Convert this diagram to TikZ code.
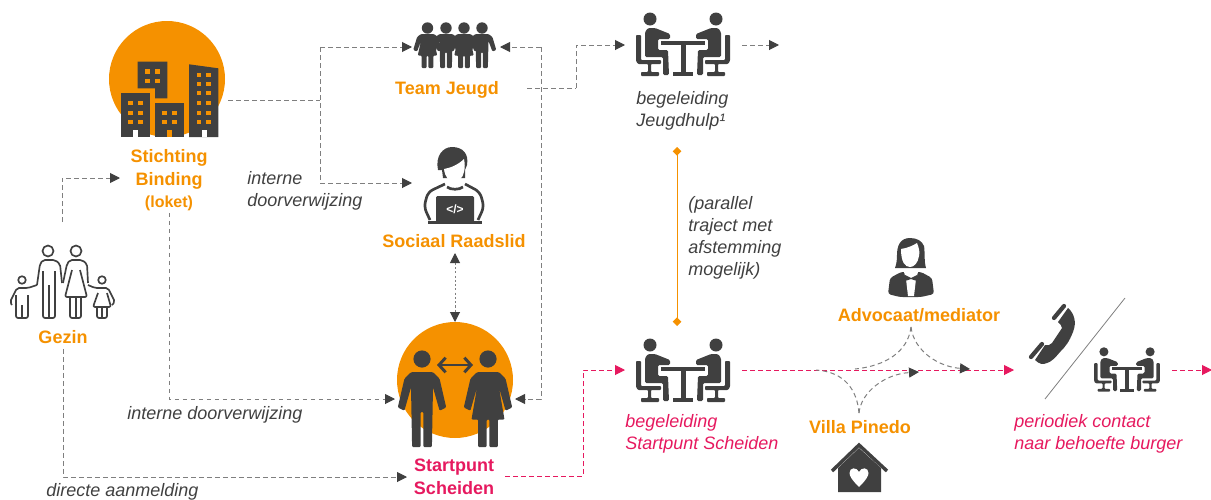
\documentclass[tikz,border=0pt]{standalone}
\usepackage{fontspec}
\setmainfont{Liberation Sans}
\usetikzlibrary{arrows.meta}
\definecolor{icondark}{HTML}{404040}
\definecolor{linegrey}{HTML}{7F7F7F}
\definecolor{bindorange}{HTML}{F59100}
\definecolor{startpink}{HTML}{E6195F}
\tikzset{
	actor/.style={font=\fontsize{13.5}{17}\selectfont\bfseries, text=bindorange, align=center, inner sep=0pt},
	remark/.style={font=\fontsize{13.5}{16.5}\selectfont\itshape, text=icondark, align=left, anchor=west, inner sep=0pt},
	flow/.style={draw=linegrey, line width=0.75pt, dash pattern=on 3.5pt off 2.5pt,
		-{Triangle[length=7.5pt,width=7.5pt,color=icondark]}},
	flowplain/.style={draw=linegrey, line width=0.75pt, dash pattern=on 3.5pt off 2.5pt},
	pinkflow/.style={draw=startpink, line width=0.75pt, dash pattern=on 3.5pt off 2.5pt,
		-{Triangle[length=7.5pt,width=7.5pt,color=startpink]}},
	solidicon/.style={fill=icondark},
	lineicon/.style={draw=icondark, line width=1.25pt, line join=round, rounded corners=1.5pt},
	manfig/.pic={
		\path[pic actions, rounded corners=0.8pt] (-5,6) -- (5,6) -- (8,9) -- (11,22) -- (8,23.5) -- (5,13) -- (4.5,40) -- (0.6,40) -- (0.6,24)
			-- (-0.6,24) -- (-0.6,40) -- (-4.5,40) -- (-5,13) -- (-8,23.5) -- (-11,22) -- (-8,9) -- cycle;
	},
	womanfig/.pic={
		\path[pic actions, rounded corners=0.8pt] (-5,6) -- (5,6) -- (8,9) -- (11,22) -- (8,23.5) -- (5,13) -- (7.5,27.5) -- (4.5,27.5) -- (4.5,40)
			-- (0.6,40) -- (0.6,27.5) -- (-0.6,27.5) -- (-0.6,40) -- (-4.5,40) -- (-4.5,27.5) -- (-7.5,27.5) -- (-5,13) -- (-8,23.5) -- (-11,22) -- (-8,9) -- cycle;
	},
	meetingfig/.pic={
		\foreach \s in {1,-1} {
			\begin{scope}[xscale=\s]
				\fill[icondark] (-33,-26) circle (6.5);
				\fill[icondark, rounded corners=1pt] (-35,-17) -- (-28,-17) -- (-13,-11) -- (-13,-6) -- (-25,-6) -- (-25,5) -- (-15,5)
					-- (-14,30) -- (-20,30) -- (-20,12) -- (-38,12) -- (-38,-13) -- cycle;
				\fill[icondark, rounded corners=0.7pt] (-47,-10) -- (-42,-10) -- (-42,15) -- (-22,15) -- (-22,19) -- (-32,19) -- (-32,27)
					-- (-24,27) -- (-24,31) -- (-42,31) -- (-42,27) -- (-35,27) -- (-35,19) -- (-45,19) -- (-47,16) -- cycle;
				\fill[icondark] (-22,-4) rectangle (0,0);
				\fill[icondark] (-2.5,0) rectangle (0,27);
				\fill[icondark] (-10,27) rectangle (0,31);
			\end{scope}
		}
	}
}
\begin{document}
\begin{tikzpicture}[x=0.75pt, y=-0.75pt]
	\useasboundingbox (0,0) rectangle (1211,500);

	% orange discs
	\fill[bindorange] (167,79) circle (58);
	\fill[bindorange] (455,380) circle (58);

	% buildings
	\fill[icondark] (120.7,93) rectangle (150,137);
	\fill[icondark] (137.7,61.7) -- (167.3,61.7) -- (167.3,98.3) -- (155,98.3) -- (155,88.3) -- (137.7,88.3) -- cycle;
	\fill[icondark] (155,103.3) rectangle (184.3,137);
	\fill[icondark] (189,64.3) -- (218.3,68.3) -- (218.3,137) -- (189,137) -- cycle;
	\foreach \wx/\wy in {130.7/103,140.3/103,130.7/113,140.3/113,130.7/122,140.3/122,
		147.7/71.3,157.3/71.3,147.7/81,157.3/81,
		164.7/113,174.3/113,164.7/122,174.3/122,
		199/75,208.7/75,199/84,208.7/84,199/93,208.7/93,199/103,208.7/103,199/113,208.7/113,199/122,208.7/122}
		\fill[bindorange] (\wx-2.3,\wy-2.3) rectangle (\wx+2.3,\wy+2.3);
	\fill[white] (133,130) rectangle (138,137);
	\fill[white] (201.7,130) rectangle (206.7,137);
	\fill[bindorange] (166.7,130) rectangle (171.7,137);

	% people
	\foreach \hx in {427.5,446,464,482}
		\fill[icondark] (\hx,28) circle (5.7);
	\pic[solidicon, xscale=1.3] at (427.5,28) {womanfig};
	\pic[solidicon, xscale=1.3] at (446,28) {manfig};
	\pic[solidicon, xscale=1.3] at (464,28) {womanfig};
	\pic[solidicon, xscale=1.3] at (482,28) {manfig};
	\fill[icondark] (422,359) circle (8.6);
	\fill[icondark] (488,359) circle (8.6);
	\pic[solidicon, scale=2.2] at (422,359) {manfig};
	\pic[solidicon, scale=2.2] at (488,359) {womanfig};
	\draw[icondark, line width=2.2pt, {Straight Barb[length=5pt,width=11pt]}-{Straight Barb[length=5pt,width=11pt]}] (437,365) -- (473,365);

	% gezin
	\draw[lineicon] (48,251) circle (5.5);
	\draw[lineicon] (76,251) circle (5.5);
	\draw[lineicon] (22,280) circle (3.8);
	\draw[lineicon] (102,280) circle (3.8);
	\draw[lineicon] (37,285) -- (40,264) -- (43,260) -- (55,260) -- (60,264) -- (62,283);
	\draw[lineicon] (43,271) -- (43,318) -- (55,318) -- (55,271);
	\draw[lineicon] (48.7,285) -- (48.7,318);
	\draw[lineicon] (63,283) -- (67,264) -- (70,260) -- (82,260) -- (87,264) -- (88,283);
	\draw[lineicon] (72,270) -- (65,297) -- (87,297) -- (80,270);
	\draw[lineicon] (70,297) -- (70,318) -- (81,318) -- (81,297);
	\draw[lineicon] (75.7,297) -- (75.7,318);
	\draw[lineicon] (37,285) -- (28,288) -- (17,288) -- (10,302) -- (12,305);
	\draw[lineicon] (16,295) -- (16,318) -- (28,318) -- (28,295);
	\draw[lineicon] (22,305) -- (22,318);
	\draw[lineicon] (88,285) -- (95,288) -- (108,288) -- (115,302) -- (112,305);
	\draw[lineicon] (98,293) -- (93,307) -- (111,307) -- (107,293);
	\draw[lineicon] (97,307) -- (97,318) -- (107,318) -- (107,307);
	\draw[lineicon] (102,307) -- (102,318);

	% meeting tables
	\pic at (683,45) {meetingfig};
	\pic at (683,371) {meetingfig};
	\pic[scale=0.7] at (1127,370) {meetingfig};

	% sociaal raadslid
	\draw[icondark, line width=2pt, line join=round, rounded corners=4pt] (445,184) -- (428,192) -- (424,207) -- (430,220);
	\draw[icondark, line width=2pt, line join=round, rounded corners=4pt] (465,184) -- (480,192) -- (484,207) -- (478,220);
	\draw[icondark, line width=2pt] (447,187) .. controls (451,190) and (459,190) .. (463,187);
	\fill[icondark] (438,170) .. controls (435,156) and (443,147) .. (452,147) .. controls (463,147) and (469,154) .. (467,165) -- (465,170)
		-- (465,178) -- (443,178) -- (442,170) -- cycle;
	\fill[white] (444,169) .. controls (450,168) and (458,165) .. (464,159) .. controls (465,164) and (465,168) .. (464,172) .. controls (463,178) and (458,182) .. (454,182)
		.. controls (449,182) and (445,177) .. (444,169) -- cycle;
	\fill[icondark, rounded corners=1pt] (436,196) rectangle (474,222);
	\fill[icondark] (428,221) rectangle (482,224);
	\node[text=white, inner sep=0pt, font=\fontsize{9}{9}\selectfont\bfseries] (codetag) at (455,209) {</>};

	% advocaat
	\fill[icondark] (910,238) .. controls (900,238) and (897,246) .. (897,255) .. controls (897,262) and (896,265) .. (895,268) -- (926,268)
		.. controls (924,262) and (925,250) .. (924,246) .. controls (922,241) and (917,238) .. (910,238) -- cycle;
	\fill[white] (901,249) .. controls (908,248) and (914,245) .. (917,243) .. controls (919,248) and (920,252) .. (919,256)
		.. controls (918,263) and (914,267) .. (910,267) .. controls (905,267) and (901,262) .. (901,249) -- cycle;
	\fill[icondark, rounded corners=2pt] (901,272) -- (921,272) -- (932,278) -- (934,294) -- (921,297) -- (900,297) -- (888,294) -- (890,278) -- cycle;
	\fill[white] (904,272) -- (918,272) -- (916,279) -- (914,296) -- (908,296) -- (906,279) -- cycle;
	\fill[icondark] (905,275) -- (911,278) -- (917,275) -- (917,281) -- (911,279) -- (905,281) -- cycle;

	% villa pinedo
	\draw[icondark, line width=2.6pt] (832,471) -- (859,445) -- (887,471);
	\fill[icondark] (838,468) -- (859,448) -- (881,468) -- (881,492) -- (838,492) -- cycle;
	\fill[white] (859,487) .. controls (852,480) and (849.5,476) .. (849.5,473) .. controls (849.5,467) and (857,467) .. (859,472)
		.. controls (861,467) and (868.5,467) .. (868.5,473) .. controls (868.5,476) and (866,480) .. (859,487) -- cycle;

	% phone
	\draw[icondark, line width=3.2pt, line cap=round] (1054,318) -- (1064,306);
	\draw[icondark, line width=3.2pt, line cap=round] (1031,357) -- (1042,344);
	\fill[icondark] (1068,308) .. controls (1074,313) and (1077,322) .. (1073,332) .. controls (1069,342) and (1066,346) .. (1060,352)
		.. controls (1055,358) and (1051,362) .. (1047,363) .. controls (1043,365) and (1039,364) .. (1035,360) -- (1045,345)
		.. controls (1048,346) and (1050,345) .. (1052,343) -- (1062,328) .. controls (1062,326) and (1060,324) .. (1058,322) -- cycle;
	\coordinate (slashtop) at (1125,298);
	\coordinate (slashend) at (1045,399);
	\draw[linegrey, line width=0.6pt] (slashtop) -- (slashend);

	% labels
	\node[actor] (binding) at (169,180) {Stichting\\Binding\\[-0.5pt]{\fontsize{12}{14}\selectfont (loket)}};
	\node[actor] (teamjeugd) at (447,90) {Team Jeugd};
	\node[actor] (raadslid) at (454,241) {Sociaal Raadslid};
	\node[actor] (gezin) at (63,337) {Gezin};
	\node[actor, text=startpink] (startpunt) at (454,477) {Startpunt\\Scheiden};
	\node[actor] (advocaat) at (919,315) {Advocaat/mediator};
	\node[actor] (villa) at (860,427) {Villa Pinedo};
	\node[remark] (internea) at (247,191) {interne\\doorverwijzing};
	\node[remark] (interneb) at (127,415) {interne doorverwijzing};
	\node[remark] (directe) at (46,492) {directe aanmelding};
	\node[remark] (jeugdhulp) at (636,111) {begeleiding\\Jeugdhulp¹};
	\node[remark] (parallel) at (688,237.5) {(parallel\\traject met\\afstemming\\mogelijk)};
	\node[remark, text=startpink] (begstart) at (625,434) {begeleiding\\Startpunt Scheiden};
	\node[remark, text=startpink] (periodiek) at (1014,434) {periodiek contact\\naar behoefte burger};

	% connector ends
	\coordinate (gezinup) at (62,222);
	\coordinate (bindingin) at (120,178);
	\coordinate (bindingout) at (228,100);
	\coordinate (splitpt) at (320,100);
	\coordinate (teamleft) at (412,47);
	\coordinate (raadleft) at (412,183);
	\coordinate (teamright) at (500,47);
	\coordinate (loopdown) at (541,47);
	\coordinate (startleft) at (395,399);
	\coordinate (startright) at (515,399);
	\coordinate (startlow) at (407,477);
	\coordinate (teamout) at (527,88);
	\coordinate (turna) at (576,88);
	\coordinate (meetaleft) at (625,45);
	\coordinate (meetaright) at (742,45);
	\coordinate (meetaout) at (779,45);
	\coordinate (raadlow) at (455,253);
	\coordinate (starttop) at (455,322);
	\coordinate (diatop) at (677,147);
	\coordinate (dialow) at (677,326);
	\coordinate (startout) at (505,476);
	\coordinate (turnb) at (583,476);
	\coordinate (meetbleft) at (625,370);
	\coordinate (meetbright) at (742,370);
	\coordinate (phoneleft) at (1014,370);
	\coordinate (endleft) at (1172,370);
	\coordinate (endright) at (1212,370);
	\coordinate (advlow) at (911,327);
	\coordinate (advtip) at (970,369);
	\coordinate (advend) at (855,369);
	\coordinate (villaup) at (859,413);
	\coordinate (villaend) at (816,370);
	\coordinate (villatip) at (919,372);

	% connectors
	\draw[flow] (gezinup) |- (bindingin);
	\draw[flow] (gezin.south) ++(0,5) |- (startlow);
	\draw[flow] (binding.south) ++(0,2) |- (startleft);
	\draw[flowplain] (bindingout) -- (splitpt);
	\draw[flow] (splitpt |- teamleft) -- (teamleft);
	\draw[flow] (splitpt |- raadleft) -- (raadleft);
	\draw[flowplain] (splitpt |- teamleft) -- (splitpt |- raadleft);
	\draw[flow] (loopdown) -- (teamright);
	\draw[flow] (loopdown) |- (startright);
	\draw[flowplain] (teamout) -- (turna);
	\draw[flow] (turna) |- (meetaleft);
	\draw[flow] (meetaright) -- (meetaout);
	\draw[draw=linegrey, line width=0.75pt, dash pattern=on 1.6pt off 1.6pt,
		{Triangle[length=7.5pt,width=7.5pt,color=icondark]}-{Triangle[length=7.5pt,width=7.5pt,color=icondark]}] (raadlow) -- (starttop);
	\draw[bindorange, line width=0.7pt, {Diamond[length=6.5pt,width=6.5pt]}-{Diamond[length=6.5pt,width=6.5pt]}] (diatop) -- (dialow);
	\draw[pinkflow] (startout) -| (turnb) |- (meetbleft);
	\draw[pinkflow] (meetbright) -- (phoneleft);
	\draw[pinkflow] (endleft) -- (endright);
	\draw[flow] (advlow) .. controls (914,352) and (940,367) .. (advtip);
	\draw[flowplain] (advlow) .. controls (908,352) and (885,366) .. (advend);
	\draw[flow] (villaup) .. controls (861,392) and (885,374) .. (villatip);
	\draw[flowplain] (villaup) .. controls (857,390) and (845,372) .. (villaend);
\end{tikzpicture}
\end{document}
